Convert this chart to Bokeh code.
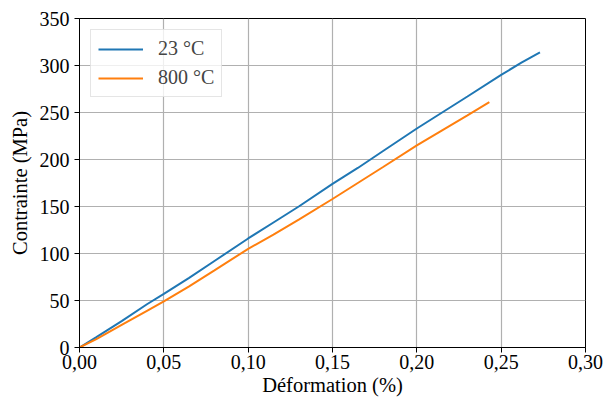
from bokeh.plotting import figure
from bokeh.models import Range1d, Legend, LegendItem, FixedTicker
from bokeh.embed import file_html
from bokeh.resources import INLINE

# Data
strain_23 = [0.0, 0.010, 0.025, 0.040, 0.050, 0.065, 0.080, 0.100, 0.115, 0.130, 0.150,
             0.165, 0.180, 0.200, 0.215, 0.230, 0.250, 0.262, 0.273]
stress_23 = [0, 11, 28, 46, 57, 74, 92, 116, 133, 150, 174,
             191, 209, 233, 250, 267, 290, 303, 314]
strain_800 = [0.0, 0.010, 0.025, 0.040, 0.050, 0.065, 0.080, 0.100, 0.115, 0.130, 0.150,
              0.165, 0.180, 0.200, 0.215, 0.230, 0.243]
stress_800 = [0, 9, 24, 39, 49, 65, 82, 105, 120, 136, 158,
              175, 192, 215, 231, 247, 261]
labels = ["23 °C", "800 °C"]
x_ticks = [0.0, 0.05, 0.10, 0.15, 0.20, 0.25, 0.30]
x_tick_labels = ["0,00", "0,05", "0,10", "0,15", "0,20", "0,25", "0,30"]
y_ticks = [0, 50, 100, 150, 200, 250, 300, 350]

FONT = "Liberation Serif"
FS = "20px"
LFS = "20.5px"

p = figure(width=605, height=401, output_backend="svg", toolbar_location=None,
           x_range=Range1d(0, 0.30), y_range=Range1d(0, 350),
           min_border_left=79, min_border_right=20, min_border_top=18, min_border_bottom=54)

r1 = p.line(strain_23, stress_23, line_color="#1f77b4", line_width=2)
r2 = p.line(strain_800, stress_800, line_color="#ff7f0e", line_width=2)

p.xaxis.ticker = FixedTicker(ticks=x_ticks)
p.xaxis.major_label_overrides = {t: l for t, l in zip(x_ticks, x_tick_labels)}
p.yaxis.ticker = FixedTicker(ticks=y_ticks)

p.xaxis.axis_label = "Déformation (%)"
p.yaxis.axis_label = "Contrainte (MPa)"
for ax in (p.xaxis[0], p.yaxis[0]):
    ax.axis_label_text_font = FONT
    ax.axis_label_text_font_size = LFS
    ax.axis_label_text_font_style = "normal"
    ax.major_label_text_font = FONT
    ax.major_label_text_font_size = FS
    ax.major_label_text_color = "black"
    ax.axis_label_text_color = "black"
    ax.minor_tick_line_color = None
    ax.major_tick_out = 5
    ax.major_tick_in = 0
    ax.major_tick_line_color = "black"
    ax.axis_line_color = "black"
p.xaxis.major_label_standoff = 2
p.xaxis.axis_label_standoff = 2
p.yaxis.major_label_standoff = 5
p.yaxis.axis_label_standoff = 6

p.grid.grid_line_color = "#b0b0b0"
p.grid.grid_line_width = 1.2
p.outline_line_color = "black"
p.outline_line_width = 1
p.background_fill_color = "white"
p.border_fill_color = "white"

legend = Legend(items=[LegendItem(label=labels[0], renderers=[r1]),
                       LegendItem(label=labels[1], renderers=[r2])],
                location="top_left")
legend.label_text_font = FONT
legend.label_text_font_size = FS
legend.glyph_width = 45
legend.label_standoff = 15
legend.padding = 7
legend.spacing = 6
legend.margin = 11
legend.border_line_color = "#cccccc"
legend.border_line_width = 1
legend.background_fill_alpha = 0.8
p.add_layout(legend)

open("out.html", "w").write(file_html(p, INLINE))
